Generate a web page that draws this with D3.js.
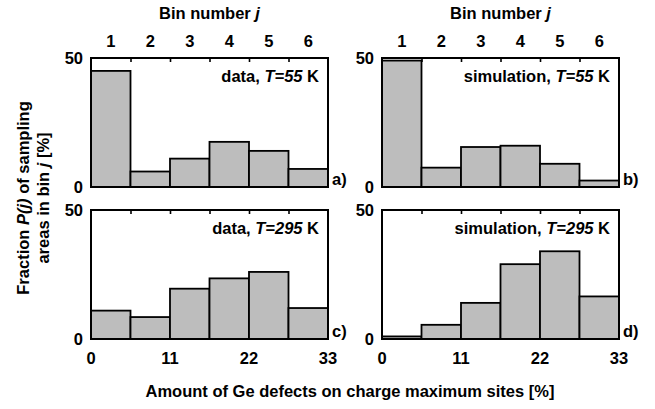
<!DOCTYPE html>
<html>
<head>
<meta charset="utf-8">
<script src="https://cdn.jsdelivr.net/npm/d3@7"></script>
<style>
  body { margin: 0; background: #fff; }
  svg { display: block; font-family: "Liberation Sans", Arial, sans-serif; font-weight: bold; }
</style>
</head>
<body>
<svg id="chart" width="655" height="409"></svg>
<script>
// bin numbers and their edges in % of Ge defects
const bins = [1, 2, 3, 4, 5, 6];
const binWidth = 5.5;
const xTicks = [0, 11, 22, 33];
const yTicks = [0, 50];

// P(j) in %
const data55 = [45, 6, 11, 17.5, 14, 7];
const sim55 = [49, 7.5, 15.5, 16, 9, 2.5];
const data295 = [11, 8.5, 19.5, 23.5, 26, 12];
const sim295 = [1, 5.5, 14, 29, 34, 16.5];

const panels = [
  { values: data55, kind: "data", temp: "55", letter: "a)", col: 0, row: 0 },
  { values: sim55, kind: "simulation", temp: "55", letter: "b)", col: 1, row: 0 },
  { values: data295, kind: "data", temp: "295", letter: "c)", col: 0, row: 1 },
  { values: sim295, kind: "simulation", temp: "295", letter: "d)", col: 1, row: 1 }
];

const svg = d3.select("#chart");
const colX = [91, 382];
const rowY = [58, 210];
const pw = 237, ph = 129;
const fs = 16.5;

const x = d3.scaleLinear().domain([0, 33]).range([0, pw]);
const y = d3.scaleLinear().domain([0, 50]).range([ph, 0]);

panels.forEach(p => {
  const g = svg.append("g")
    .attr("transform", `translate(${colX[p.col]},${rowY[p.row]})`);

  // bars
  g.selectAll("rect.bar")
    .data(p.values)
    .join("rect")
    .attr("class", "bar")
    .attr("x", (d, i) => x(i * binWidth))
    .attr("width", x(binWidth) - x(0))
    .attr("y", d => y(d))
    .attr("height", d => y(0) - y(d))
    .attr("fill", "#bdbdbd")
    .attr("stroke", "#000")
    .attr("stroke-width", 1.8);

  // frame
  g.append("rect")
    .attr("width", pw).attr("height", ph)
    .attr("fill", "none").attr("stroke", "#000").attr("stroke-width", 2);

  // inward ticks on top edge at bin boundaries
  const topAxis = d3.axisBottom(x)
    .tickValues(bins.slice(1).map(b => (b - 1) * binWidth))
    .tickSize(4).tickFormat("");
  g.append("g").call(topAxis)
    .call(a => a.select(".domain").remove())
    .selectAll("line").attr("stroke-width", 1.6);

  // y labels
  g.selectAll("text.ytick")
    .data(yTicks)
    .join("text")
    .attr("class", "ytick")
    .attr("x", -8).attr("y", d => y(d)).attr("dy", "0.36em")
    .attr("text-anchor", "end").attr("font-size", fs)
    .text(d => d);

  // inner label
  const t = g.append("text")
    .attr("x", pw - 9).attr("y", 24)
    .attr("text-anchor", "end").attr("font-size", fs);
  t.append("tspan").text(p.kind + ", ");
  t.append("tspan").attr("font-style", "italic").text("T=" + p.temp);
  t.append("tspan").text(" K");

  // panel letter
  g.append("text")
    .attr("x", pw + 4).attr("y", ph - 2)
    .attr("font-size", fs).text(p.letter);

  if (p.row === 0) {
    g.selectAll("text.bin")
      .data(bins)
      .join("text")
      .attr("class", "bin")
      .attr("x", d => x((d - 0.5) * binWidth)).attr("y", -11)
      .attr("text-anchor", "middle").attr("font-size", fs)
      .text(d => d);
    const bt = g.append("text")
      .attr("x", pw / 2).attr("y", -39)
      .attr("text-anchor", "middle").attr("font-size", fs);
    bt.append("tspan").text("Bin number ");
    bt.append("tspan").attr("font-style", "italic").text("j");
  } else {
    g.selectAll("text.xtick")
      .data(xTicks)
      .join("text")
      .attr("class", "xtick")
      .attr("x", d => x(d)).attr("y", ph + 25)
      .attr("text-anchor", "middle").attr("font-size", fs)
      .text(d => d);
  }
});

// x title
svg.append("text")
  .attr("x", 350).attr("y", 397)
  .attr("text-anchor", "middle").attr("font-size", fs)
  .text("Amount of Ge defects on charge maximum sites [%]");

// y title (two lines)
const yt = svg.append("text")
  .attr("transform", "translate(0,198) rotate(-90)")
  .attr("text-anchor", "middle").attr("font-size", fs);
const l1 = yt.append("tspan").attr("x", 0).attr("y", 29);
l1.append("tspan").text("Fraction ");
l1.append("tspan").attr("font-style", "italic").text("P(j)");
l1.append("tspan").text(" of sampling");
const l2 = yt.append("tspan").attr("x", 0).attr("y", 49);
l2.append("tspan").text("areas  in bin ");
l2.append("tspan").attr("font-style", "italic").text("j");
l2.append("tspan").text(" [%]");
</script>
</body>
</html>
